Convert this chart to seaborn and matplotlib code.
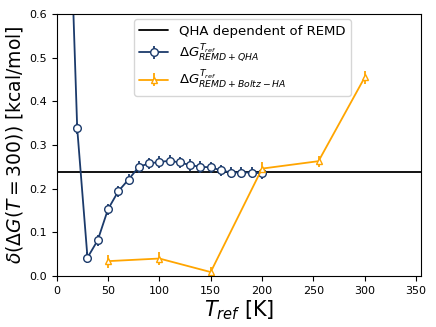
import numpy as np
import pandas as pd
import matplotlib
matplotlib.use("Agg")
import matplotlib.pyplot as plt
import seaborn as sns

# data
t_qha = [10, 20, 30, 40, 50, 60, 70, 80, 90, 100, 110, 120, 130, 140, 150,
         160, 170, 180, 190, 200]
dg_qha = [1.05, 0.338, 0.042, 0.082, 0.153, 0.194, 0.221, 0.250, 0.258, 0.261,
          0.264, 0.260, 0.254, 0.250, 0.249, 0.242, 0.237, 0.237, 0.237, 0.235]
err_qha = [0.013] * len(t_qha)

t_boltz = [50, 100, 150, 200, 255, 300]
dg_boltz = [0.034, 0.040, 0.009, 0.246, 0.263, 0.455]
err_boltz = [0.015, 0.015, 0.012, 0.015, 0.013, 0.015]

ref_line = 0.238

sns.set_style("ticks")
plt.rcParams["font.family"] = ["DejaVu Sans"]
plt.rcParams["text.color"] = "black"
plt.rcParams["axes.labelcolor"] = "black"

fig, ax = plt.subplots(figsize=(4.36, 3.27), dpi=100)

ax.axhline(ref_line, color="black", lw=1.3, label="QHA dependent of REMD")
ax.errorbar(t_qha, dg_qha, yerr=err_qha, color="#1b3a6b", marker="o",
            markerfacecolor="white", markersize=5.5, lw=1.3,
            label=r"$\Delta G^{T_{ref}}_{REMD+QHA}$")
ax.errorbar(t_boltz, dg_boltz, yerr=err_boltz, color="orange", marker="^",
            markerfacecolor="white", markersize=5, lw=1.3,
            label=r"$\Delta G^{T_{ref}}_{REMD+Boltz-HA}$")

ax.set_xlim(0, 355)
ax.set_ylim(0, 0.6)
ax.set_xticks([0, 50, 100, 150, 200, 250, 300, 350])
ax.set_yticks([0.0, 0.1, 0.2, 0.3, 0.4, 0.5, 0.6])
ax.tick_params(labelsize=8, colors="black")
for s in ax.spines.values():
    s.set_color("black")
ax.set_xlabel(r"$T_{ref}$ [K]", fontsize=15, labelpad=2)
ax.set_ylabel(r"$\delta(\Delta G(T=300))$ [kcal/mol]", fontsize=13.5, labelpad=3)
leg = ax.legend(loc="upper left", bbox_to_anchor=(0.205, 0.99), fontsize=9.5,
                frameon=True, handlelength=2.2, borderaxespad=0.2,
                labelspacing=0.35)
for txt in leg.get_texts():
    txt.set_color("black")

fig.subplots_adjust(left=0.13, right=0.966, top=0.957, bottom=0.156)
fig.savefig("out.png", dpi=100)
